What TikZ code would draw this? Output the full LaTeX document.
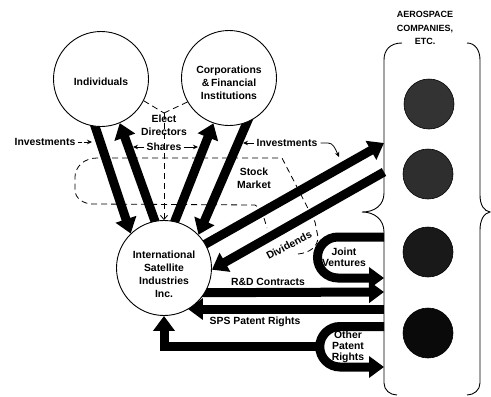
\documentclass[tikz,border=0pt]{standalone}
\usepackage{fontspec}
\setmainfont{Liberation Sans}
\usetikzlibrary{arrows.meta,calc}
\pgfdeclarelayer{back}
\pgfsetlayers{back,main}

\begin{document}
\begin{tikzpicture}[x=1pt,y=-1pt,
  font=\bfseries\fontsize{10.4}{13}\selectfont,
  party/.style={circle, draw, line width=0.9pt, fill=white, minimum size=95pt,
                inner sep=0pt},
  firm/.style={circle, draw=black, line width=0.6pt, minimum size=50pt, inner sep=0pt},
  flow/.style={line width=9pt, line join=miter,
               -{Triangle[length=15pt,width=21pt]}},
  hint/.style={line width=0.8pt, dash pattern=on 6pt off 4pt},
  pointer/.style={line width=0.8pt, -{Stealth[length=5pt,width=4.5pt]}},
  brace/.style={line width=0.9pt},
  lbl/.style={inner sep=0pt, align=center},
  tight/.style={lbl, font=\bfseries\fontsize{10.4}{10.8}\selectfont},
]
\useasboundingbox (0,0) rectangle (491,397);

% the three parties
\node[party] (ind)  at (101,79)  {};
\node[party] (corp) at (229,78)  {};
\node[party] (isi)  at (164,268) {};
\node[lbl] (indtxt)  at ($(ind.center)+(0,3)$)  {Individuals};
\node[lbl] (corptxt) at ($(corp.center)+(0,5)$) {Corporations\\\&\,Financial\\Institutions};
\node[lbl] (isitxt)  at ($(isi.center)+(0,6)$)  {International\\Satellite\\Industries\\Inc.};

% aerospace companies between a pair of braces
\node[lbl, font=\fontsize{9}{13.5}\selectfont] (aero) at (425,28)
  {\bfseries AEROSPACE\\\bfseries COMPANIES,\\\bfseries ETC.};
\node[firm, fill=black!80] (a1) at (429,104) {};
\node[firm, fill=black!82] (a2) at (428,174) {};
\node[firm, fill=black!90] (a3) at (428,252) {};
\node[firm, fill=black!96] (a4) at (428,333) {};
\draw[brace] (402,43) .. controls (390,43) and (384,50) .. (384,60) -- (384,193)
  .. controls (384,205) and (375,212) .. (362,212)
  .. controls (375,212) and (384,220) .. (384,232) -- (384,383)
  .. controls (384,390) and (390,395) .. (397,395);
\draw[brace] (467,43) .. controls (475,43) and (480,50) .. (480,60) -- (480,195)
  .. controls (480,205) and (484,211) .. (490,212)
  .. controls (484,213) and (480,220) .. (480,230) -- (480,383)
  .. controls (480,390) and (474,395) .. (467,395);

% points on the left brace where the flows meet it
\coordinate (b5) at (384,143);
\coordinate (b6) at (384,172);
\coordinate (b7) at (384,292);
\coordinate (b8) at (384,309);
\coordinate (jvtop) at (384,237);
\coordinate (jvbot) at (384,278);
\coordinate (optop) at (384,326.5);
\coordinate (opbot) at (384,367);
\coordinate (opleft) at (319.75,346.75);

\begin{pgfonlayer}{back}
  % stock market region, open where the dividends label sits
  \draw[hint] (298,254) .. controls (309,253) and (318,247) .. (318,237) -- (315,222)
    -- (282,158) -- (97,158) .. controls (84,158) and (75,167) .. (75,177) -- (75,190)
    .. controls (75,198) and (83,204) .. (93,204) -- (255,205)
    .. controls (259,207) and (262,212) .. (264,218) -- (267,228);
  % electing directors
  \coordinate (elect) at (164,113);
  \draw[hint] (ind.-27) -- (elect);
  \draw[hint] (corp.-150) -- (elect);
  \draw[hint, -{Straight Barb[length=4pt,width=7pt]}] (elect) -- (isi.north);

  % money and shares
  \draw[flow, shorten <=-6pt] (ind.-97) -- (isi.134);
  \draw[flow, shorten <=-6pt] (isi.101) -- (ind.-67);
  \draw[flow, shorten <=-6pt] (isi.77) -- (corp.-109);
  \draw[flow, shorten <=-6pt] (corp.-68) -- (isi.44);
  \draw[flow, shorten <=-6pt] (isi.30) -- (b5);
  \draw[flow] (b6) -- (isi.-2);
  \draw[flow, shorten <=-6pt] (isi.-31) -- (b7);
  \draw[flow] (b8) -- (isi.-60 |- b8);

  % joint ventures and other patent rights loops
  \draw[flow] (jvtop) -- (338,237) arc[start angle=270, end angle=90, radius=20.5] -- (jvbot);
  \draw[flow] (optop) -- (340,326.5) arc[start angle=270, end angle=90, radius=20.25] -- (opbot);
  \draw[flow] (opleft) -- (isi.south |- opleft) -- (isi.south);
\end{pgfonlayer}

% labels
\node[lbl] (invL) at (45,142) {Investments};
\draw[pointer, dash pattern=on 4pt off 2pt] (invL.east) ++(2,0) -- (92,142);
\node[lbl] (elec) at (164,125) {Elect\\Directors};
\node[lbl] (shares) at (164,147) {Shares};
\draw[pointer] (shares.west) ++(-2,0) -- (133,147);
\draw[pointer] (shares.east) ++(2,0) -- (198,147);
\node[lbl] (invR) at (287,143) {Investments};
\draw[pointer] (invR.west) ++(-2,0) -- (243,143);
\draw[pointer] (invR.east) ++(3,0) -- (328,143) .. controls (333,143) and (335,148) .. (339,157);
\node[lbl] (stock) at (254,178) {Stock\\Market};
\node[lbl, rotate=28] (div) at (289,245) {Dividends};
\node[lbl] (rd) at (268,282) {R\&D Contracts};
\node[lbl] (sps) at (255,322) {SPS Patent Rights};
\node[tight] (jv) at (344,257) {Joint\\Ventures};
\node[tight] (opr) at (348,347) {Other\\Patent\\Rights};
\end{tikzpicture}
\end{document}
